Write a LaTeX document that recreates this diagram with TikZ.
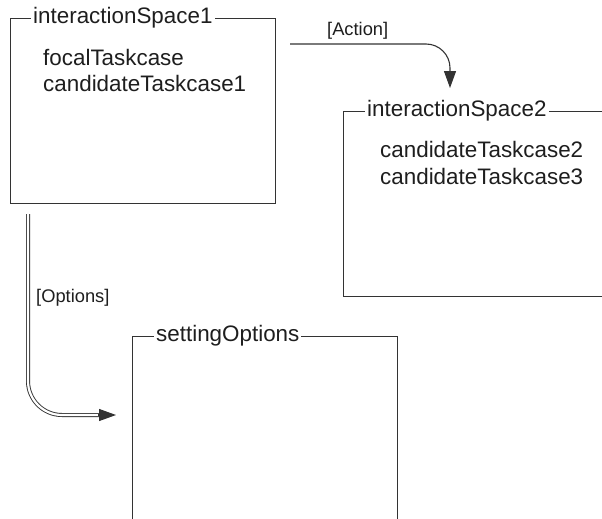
\documentclass[tikz,border=0pt]{standalone}
\usepackage{fontspec}
\setmainfont{Liberation Sans}
\usetikzlibrary{arrows.meta,calc}
\definecolor{ink}{HTML}{1E1E1E}
\definecolor{edge}{HTML}{333333}
\tikzset{
  frame/.style={draw=edge, line width=1.1pt, anchor=north west, inner sep=0pt},
  frametitle/.style={fill=white, text=ink, font=\fontsize{22.4}{25}\selectfont,
    anchor=west, inner xsep=2pt, inner ysep=0pt},
  entry/.style={text=ink, font=\fontsize{22.4}{25}\selectfont, anchor=base west, inner sep=0pt},
  guard/.style={text=ink, font=\fontsize{18.3}{21}\selectfont, anchor=base west, inner sep=0pt},
  tip/.style={-{Triangle[length=17pt,width=12pt]}},
  flow/.style={draw=edge, line width=1.1pt, tip},
  twinline/.style={draw=edge, double=white, double distance=2.2pt, line width=0.9pt},
}
\begin{document}
\begin{tikzpicture}[x=1pt,y=-1pt]
\clip (0,0) rectangle (602,519);
\fill[white] (0,0) rectangle (602,519);

% interaction spaces and the options frame
\node[frame, minimum width=265pt, minimum height=185pt] (box1) at (10,18) {};
\node[frame, minimum width=310pt, minimum height=185pt] (box2) at (343,111) {};
\node[frame, minimum width=265pt, minimum height=260pt] (box3) at (132,336) {};

\node[frametitle] (t1) at ($(box1.north west)+(21,0)$) {interactionSpace1};
\node[frametitle] (t2) at ($(box2.north west)+(22,0)$) {interactionSpace2};
\node[frametitle] (t3) at ($(box3.north west)+(22,0)$) {settingOptions};

\node[entry] (e1) at (43,66) {focalTaskcase};
\node[entry] (e2) at (43,92) {candidateTaskcase1};
\node[entry] (e3) at (380,157) {candidateTaskcase2};
\node[entry] (e4) at (380,184) {candidateTaskcase3};

% transitions
\coordinate (actStart) at (290,44);
\coordinate (actEnd) at (450,88);
\draw[flow, rounded corners=24pt] (actStart) -| (actEnd);
\node[guard] (actLbl) at (327,36) {[Action]};

\coordinate (optStart) at (28,214);
\coordinate (optEnd) at (116,415);
\coordinate (optNeck) at (99,415);
\draw[twinline, rounded corners=34pt] (optStart) |- (optNeck);
\draw[flow] ($(optNeck)+(-1,0)$) -- (optEnd);
\node[guard] (optLbl) at (36,302) {[Options]};
\end{tikzpicture}
\end{document}
